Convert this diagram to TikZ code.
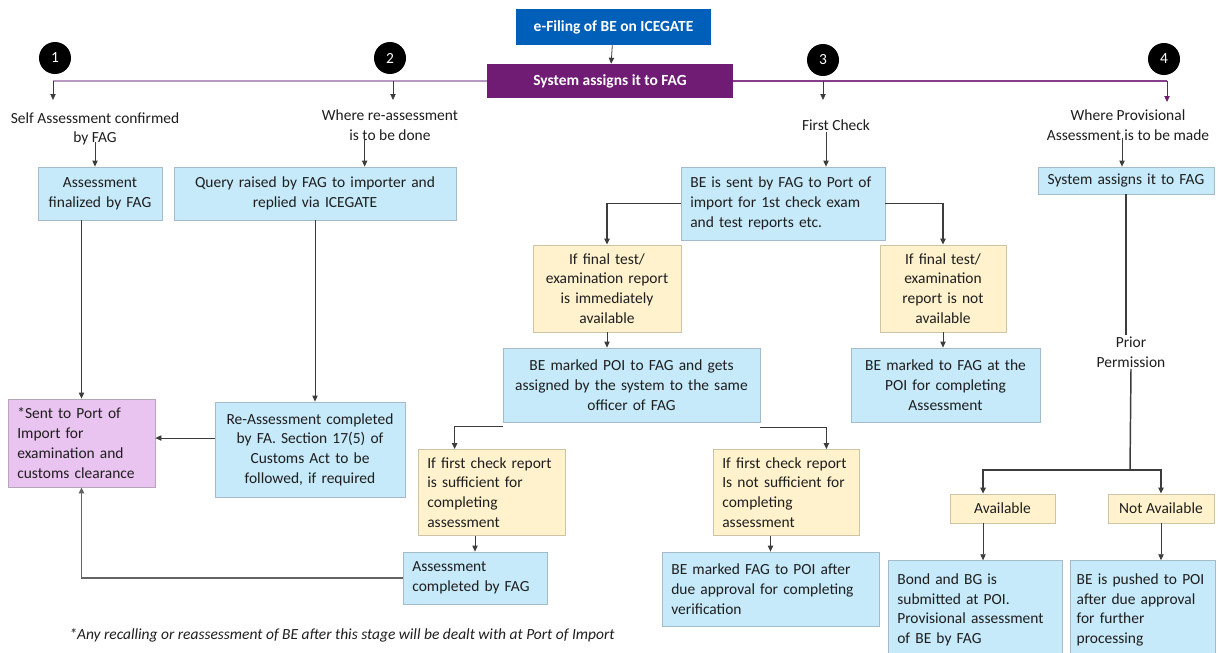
\documentclass[tikz,border=0pt]{standalone}
\usepackage{fontspec}
\setmainfont{Carlito}
\usetikzlibrary{arrows.meta}

\definecolor{efileblue}{RGB}{0,96,185}
\definecolor{fagpurple}{RGB}{112,28,116}
\definecolor{linepurple}{RGB}{186,152,196}
\definecolor{boxblue}{RGB}{198,234,250}
\definecolor{boxyellow}{RGB}{255,242,204}
\definecolor{boxpink}{RGB}{234,196,240}
\definecolor{boxline}{RGB}{165,188,200}
\definecolor{ylwline}{RGB}{205,195,165}
\definecolor{pinkline}{RGB}{180,165,185}
\definecolor{conn}{RGB}{60,60,60}
\definecolor{txt}{RGB}{30,30,30}

\newcommand{\boxfont}{\fontsize{11.6}{14.8}\selectfont}

\tikzset{
  box/.style={draw=boxline, line width=0.6pt, font=\boxfont, text=txt, inner xsep=7pt, inner ysep=2pt},
  bluebox/.style={box, fill=boxblue},
  ylwbox/.style={box, fill=boxyellow, draw=ylwline},
  pinkbox/.style={box, fill=boxpink, draw=pinkline},
  headbox/.style={font=\boxfont\bfseries, text=white, inner sep=2pt},
  numdot/.style={circle, fill=black, text=white, minimum size=24pt, inner sep=0pt, font=\boxfont},
  lbl/.style={font=\boxfont, text=txt, align=center, inner sep=1pt},
  arr/.style={-{Triangle[length=4.5pt,width=4pt]}, draw=conn, line width=0.6pt},
  arrthick/.style={arr, line width=1.1pt},
}

\begin{document}
\begin{tikzpicture}[x=0.75pt,y=-0.75pt]
\clip (0,0) rectangle (1218,653);
\fill[white] (0,0) rectangle (1218,653);

% top of the flow
\node[headbox, fill=efileblue, minimum width=146pt, minimum height=27pt] (efile) at (613.5,27) {e-Filing of BE on ICEGATE};
\node[headbox, fill=fagpurple, minimum width=184.5pt, minimum height=25.5pt] (sysfag) at (610,81) {System assigns it to FAG};
\draw[arr] (efile) -- (sysfag);

\node[numdot] (n1) at (55,58) {\raisebox{-4pt}{1}};
\node[numdot] (n2) at (390,58) {\raisebox{-4pt}{2}};
\node[numdot] (n3) at (823,60) {\raisebox{-4pt}{3}};
\node[numdot] (n4) at (1164,59) {\raisebox{-4pt}{4}};

\coordinate (t1) at (53,81);
\coordinate (t2) at (393,81);
\coordinate (t3) at (823,81);
\coordinate (t4) at (1167,81);
\coordinate (e1) at (53,100);
\coordinate (e2) at (393,100);
\coordinate (e3) at (823,100);
\coordinate (e4) at (1167,102);

\draw[linepurple, line width=1.6pt] (sysfag.west) -- (t1);
\draw[fagpurple!85, line width=0.9pt] (sysfag.east) -- (t4);
\draw[arr] (t1) -- (e1);
\draw[arr] (t2) -- (e2);
\draw[arr] (t3) -- (e3);
\draw[arr, draw=fagpurple, fill=fagpurple] (t4) -- (e4);

% branch labels
\node[lbl] (lab1) at (95,129) {Self Assessment confirmed\\by FAG};
\node[lbl] (lab2) at (390,125) {Where re-assessment\\is to be done};
\node[lbl] (lab3) at (836,125) {First Check};
\node[lbl] (lab4) at (1128,125) {Where Provisional\\Assessment is to be made};

% 1 and 2
\node[bluebox, minimum width=93pt, minimum height=39.75pt, text width=79pt, align=center] (a1) at (100,193.5) {Assessment\\finalized by FAG};
\node[bluebox, minimum width=211.5pt, minimum height=39.75pt, text width=197.5pt, align=center] (a2) at (315,193.5) {Query raised by FAG to importer and\\replied via ICEGATE};
\node[pinkbox, minimum width=110.25pt, minimum height=66pt, text width=96.25pt, align=left] (portimp) at (81.5,443) {*Sent to Port of\\Import for\\examination and\\customs clearance};
\node[bluebox, minimum width=142.5pt, minimum height=71.25pt, text width=128.5pt, align=center] (reass) at (310,449.5) {Re-Assessment completed\\by FA. Section 17(5) of\\Customs Act to be\\followed, if required};

\draw[arr] ([yshift=4pt]lab1.south) -- (lab1.south |- a1.north);
\draw[arr] ([xshift=-19pt,yshift=3pt]lab2.south) -- ([xshift=-19pt]lab2.south |- a2.north);
\draw[arr] (portimp.north |- a1.south) -- (portimp.north);
\draw[arr] (a2.south) -- (a2.south |- reass.north);
\draw[arr] ([yshift=8.6pt]reass.west) -- ([yshift=8.6pt]reass.west -| portimp.east);

% 3
\node[bluebox, minimum width=153pt, minimum height=54.75pt, text width=139pt, align=left] (a3) at (783,203.5) {BE is sent by FAG to Port of\\import for 1st check exam\\and test reports etc.};
\node[ylwbox, minimum width=111pt, minimum height=65.25pt, text width=97pt, align=center] (y1) at (607,288.5) {If final test/\\examination report\\is immediately\\available};
\node[ylwbox, minimum width=94.5pt, minimum height=65.25pt, text width=80.5pt, align=center] (y2) at (943,288.5) {If final test/\\examination\\report is not\\available};
\node[bluebox, minimum width=192.75pt, minimum height=55.5pt, text width=178.75pt, align=center] (b1) at (631.5,385) {BE marked POI to FAG and gets\\assigned by the system to the same\\officer of FAG};
\node[bluebox, minimum width=141.75pt, minimum height=55.5pt, text width=127.75pt, align=center] (b2) at (945.5,385) {BE marked to FAG at the\\POI for completing\\Assessment};
\node[ylwbox, minimum width=110.25pt, minimum height=64.5pt, text width=96.25pt, align=left] (y3) at (491.5,492.5) {If first check report\\is sufficient for\\completing\\assessment};
\node[ylwbox, minimum width=109.5pt, minimum height=64.5pt, text width=95.5pt, align=left] (y4) at (786,492.5) {If first check report\\Is not sufficient for\\completing\\assessment};
\node[bluebox, minimum width=108pt, minimum height=39pt, text width=94pt, align=left] (c1) at (475,578) {Assessment\\completed by FAG};
\node[bluebox, minimum width=162.75pt, minimum height=55.5pt, text width=148.75pt, align=left] (c2) at (770.5,589) {BE marked FAG to POI after\\due approval for completing\\verification};

\draw[arr] ([xshift=-7.5pt]lab3.south) -- ([xshift=-7.5pt]lab3.south |- a3.north);
\draw[arrthick] (a3.west) -| (y1.north);
\draw[arrthick] (a3.east) -| (y2.north);
\draw[arr] (y1.south) -- (y1.south |- b1.north);
\draw[arr] (y2.south) -- (y2.south |- b2.north);
\draw[arrthick] ([yshift=-3pt]b1.south west) -| ([xshift=27.75pt]y3.north west);
\draw[arrthick] ([yshift=-4pt]b1.south east) -| ([xshift=-24.75pt]y4.north east);
\draw[arr] (c1.north |- y3.south) -- (c1.north);
\draw[arr] (c2.north |- y4.south) -- (c2.north);
\draw[arrthick, draw=conn!80] (c1.west) -| (portimp.south);

% 4
\node[bluebox, minimum width=132pt, minimum height=20.25pt, text width=118pt, align=center] (a4) at (1126,180.5) {System assigns it to FAG};
\node[lbl] (prior) at (1131,352) {Prior\\Permission};
\node[ylwbox, minimum width=78.75pt, minimum height=21.75pt] (y5) at (1002.5,508.5) {Available};
\node[ylwbox, minimum width=79.5pt, minimum height=21.75pt] (y6) at (1161,508.5) {Not Available};
\node[bluebox, minimum width=130.5pt, minimum height=74pt, text width=116.5pt, align=left] (d1) at (975,610) {Bond and BG is\\submitted at POI.\\Provisional assessment\\of BE by FAG};
\node[bluebox, inner xsep=5pt, minimum width=108.75pt, minimum height=74pt, text width=98.75pt, align=left] (d2) at (1142.5,610) {BE is pushed to POI\\after due approval\\for further\\processing};
\coordinate (split) at (1130,470);

\draw[arr] ([xshift=-4.5pt,yshift=3pt]lab4.south) -- ([xshift=-4.5pt]lab4.south |- a4.north);
\draw[conn, line width=1.1pt] (a4.south) -- (a4.south |- prior.north);
\draw[conn, line width=1.1pt] (prior.south) -- (split);
\draw[arrthick] (split) -| ([xshift=-14.6pt]y5.north);
\draw[arrthick] (split) -| (y6.north);
\draw[arr] ([xshift=-14.6pt]y5.south) -- ([xshift=-14.6pt]y5.south |- d1.north);
\draw[arr] (y6.south) -- (y6.south |- d2.north);

\node[font=\boxfont\itshape, text=txt, inner sep=1pt] (foot) at (342,635) {*Any recalling or reassessment of BE after this stage will be dealt with at Port of Import};
\end{tikzpicture}
\end{document}
